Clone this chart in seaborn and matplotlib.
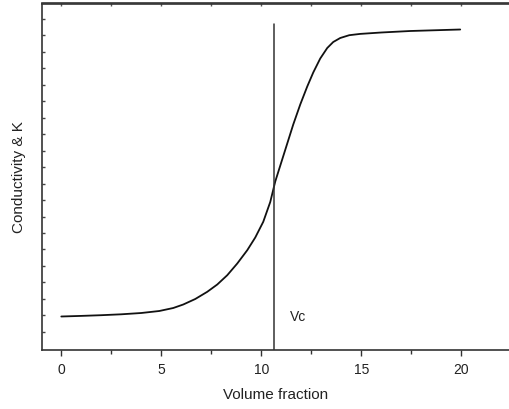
import matplotlib
matplotlib.use("Agg")
import matplotlib.pyplot as plt
import seaborn as sns
import pandas as pd
import numpy as np

# Data
volume_fraction = [0, 1, 2, 3, 4, 4.9, 5.6, 6.1, 6.7, 7.3, 7.8, 8.3, 8.8, 9.3, 9.7, 10.1, 10.45,
                   10.7, 11.0, 11.3, 11.6, 11.95, 12.3, 12.6, 12.95, 13.3, 13.6, 13.95, 14.4,
                   14.95, 16.0, 17.45, 19.95]
conductivity = [33, 33.6, 34.3, 35.2, 36.5, 38.5, 41.5, 45, 50.5, 57.7, 65, 74.3, 86, 99.3, 112, 127.7,
                147.5, 168, 187, 206, 225, 245, 263, 277, 291, 301.5, 307.5, 311.5, 314.3,
                315.6, 317, 318.5, 320]
vc_value = 10.65
vc_label = "Vc"
x_label = "Volume fraction"
y_label = "Conductivity & K"
x_major_ticks = [0, 5, 10, 15, 20]

df = pd.DataFrame({"x": volume_fraction, "y": conductivity})

sns.set_style("ticks")
plt.rcParams["font.family"] = ["Liberation Sans", "DejaVu Sans"]

fig = plt.figure(figsize=(5.09, 4.10), dpi=100)
ax = fig.add_axes([41.5 / 509, 59.5 / 410, 1 - 41.5 / 509, (350.5 - 4.5) / 410])

sns.lineplot(data=df, x="x", y="y", ax=ax, color="#111111", linewidth=1.3, sort=False)
ax.axvline(vc_value, ymin=0, ymax=(350.5 - 25) / 346, color="#333333", linewidth=1.1)
ax.text(11.43, 33.5, vc_label, fontsize=10, va="center", ha="left", color="#222222")

ax.set_xlim(-0.99, 22.39)
ax.set_ylim(0, 346)

ax.set_xticks(x_major_ticks)
ax.set_xticks([2.5, 7.5, 12.5, 17.5], minor=True)
ax.tick_params(axis="x", which="major", direction="out", length=4, width=1, labelsize=10,
               colors="#333333", labelcolor="#222222", pad=5, top=False)
ax.tick_params(axis="x", which="minor", direction="out", length=3, width=1, colors="#333333")

ax.set_yticks(np.arange(17.7, 346, 16.47))
ax.set_yticklabels([])
ax.tick_params(axis="y", which="major", direction="in", length=2, width=1, colors="#444444", left=True)

# tiny top ticks via secondary axis
top = ax.secondary_xaxis("top")
top.set_xticks(np.arange(0, 22, 2.5))
top.set_xticklabels([])
top.tick_params(direction="in", length=2, width=1, colors="#555555")

for s in ["left", "bottom", "top"]:
    ax.spines[s].set_visible(True)
    ax.spines[s].set_color("#333333")
    ax.spines[s].set_linewidth(1.2)
ax.spines["right"].set_visible(False)
top.spines["top"].set_color("#333333")
top.spines["top"].set_linewidth(1.2)

ax.set_xlabel(x_label, fontsize=11, color="#222222", labelpad=8)
ax.set_ylabel(y_label, fontsize=11, color="#222222", labelpad=8)

fig.savefig("out.png", dpi=100)
